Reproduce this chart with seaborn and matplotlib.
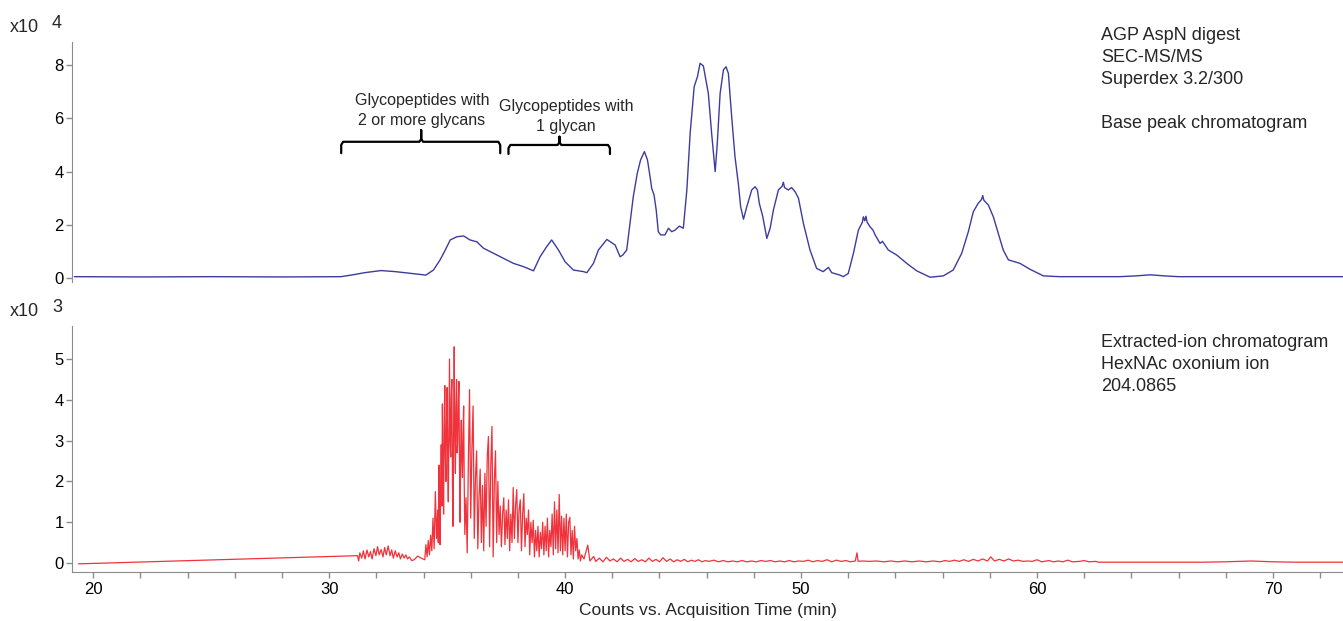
import numpy as np
import pandas as pd
import matplotlib
matplotlib.use("Agg")
import matplotlib.pyplot as plt
from matplotlib.ticker import MultipleLocator
import seaborn as sns

# base peak chromatogram (x10^4 counts)
bpc_time = [19.2, 22.0, 25.0, 28.0, 30.5, 31.0, 31.5, 32.2, 32.8, 33.4, 34.1, 34.42,
            34.7, 34.92, 35.13, 35.41, 35.7, 35.97, 36.26, 36.54, 36.96, 37.39, 37.81,
            38.23, 38.66, 38.94, 39.22, 39.43, 39.72, 40.0, 40.35, 40.78, 40.92, 41.2,
            41.41, 41.77, 42.12, 42.33, 42.44, 42.61, 42.75, 42.89, 43.06, 43.2, 43.36,
            43.49, 43.6, 43.67, 43.77, 43.86, 43.95, 44.05, 44.23, 44.38, 44.52, 44.66,
            44.84, 45.01, 45.16, 45.3, 45.47, 45.61, 45.72, 45.86, 45.97, 46.07, 46.21,
            46.36, 46.45, 46.57, 46.71, 46.82, 46.92, 47.06, 47.2, 47.34, 47.44, 47.56,
            47.7, 47.91, 48.05, 48.15, 48.23, 48.38, 48.55, 48.69, 48.83, 49.04, 49.2,
            49.25, 49.3, 49.46, 49.6, 49.75, 49.89, 50.1, 50.38, 50.66, 50.94, 51.16,
            51.3, 51.65, 51.79, 52.0, 52.22, 52.43, 52.6, 52.64, 52.7, 52.75, 52.8,
            52.92, 53.05, 53.14, 53.35, 53.45, 53.7, 54.06, 54.48, 54.9, 55.47, 56.03,
            56.45, 56.81, 57.09, 57.3, 57.51, 57.65, 57.7, 57.75, 57.94, 58.15, 58.36,
            58.57, 58.79, 59.28, 59.7, 60.27, 60.97, 63.5, 64.2, 64.8, 65.4, 66.0, 73.0]
bpc_counts = [0.05, 0.04, 0.05, 0.04, 0.05, 0.12, 0.2, 0.28, 0.24, 0.18, 0.11, 0.3,
              0.68, 1.05, 1.43, 1.55, 1.58, 1.43, 1.36, 1.12, 0.93, 0.74, 0.55,
              0.43, 0.27, 0.8, 1.18, 1.43, 1.05, 0.61, 0.3, 0.24, 0.2, 0.55,
              1.05, 1.45, 1.24, 0.8, 0.86, 1.05, 2.05, 3.06, 3.94, 4.44, 4.75,
              4.44, 3.81, 3.37, 3.12, 2.56, 1.74, 1.62, 1.62, 1.87, 1.74, 1.8,
              1.95, 1.87, 3.31, 5.44, 7.19, 7.57, 8.07, 7.97, 7.44, 6.94, 5.44,
              4.0, 5.06, 6.94, 7.82, 7.94, 7.69, 6.06, 4.56, 3.56, 2.68, 2.21,
              2.68, 3.31, 3.43, 3.31, 2.81, 2.3, 1.49, 1.87, 2.56, 3.31, 3.45,
              3.6, 3.4, 3.31, 3.4, 3.24, 3.0, 2.05, 1.05, 0.36, 0.24, 0.4,
              0.2, 0.11, 0.05, 0.17, 0.93, 1.8, 2.1, 2.3, 2.15, 2.32, 2.1,
              1.93, 1.8, 1.62, 1.3, 1.38, 1.05, 0.86, 0.55, 0.27, 0.03, 0.08,
              0.3, 0.93, 1.74, 2.49, 2.81, 2.95, 3.1, 2.92, 2.74, 2.3, 1.68,
              1.05, 0.68, 0.55, 0.33, 0.08, 0.05, 0.05, 0.08, 0.12, 0.08, 0.05, 0.05]

# extracted-ion chromatogram (x10^3 counts), in three stretches
eic_time_start = [19.38, 31.2, 31.25, 31.3, 31.38, 31.45, 31.52, 31.6, 31.68, 31.75,
                  31.82, 31.9, 31.98, 32.05, 32.12, 32.2, 32.28, 32.35, 32.42, 32.5,
                  32.58, 32.65, 32.72, 32.8, 32.88, 32.95, 33.02, 33.1, 33.18, 33.25,
                  33.32, 33.4, 33.5, 33.6, 33.75, 33.9, 34.05]
eic_counts_start = [-0.02, 0.18, 0.05, 0.25, 0.12, 0.3, 0.1, 0.32, 0.15, 0.28,
                    0.1, 0.35, 0.18, 0.4, 0.2, 0.33, 0.15, 0.38, 0.2, 0.42,
                    0.18, 0.32, 0.12, 0.3, 0.15, 0.25, 0.1, 0.22, 0.12, 0.2,
                    0.1, 0.15, 0.06, 0.08, 0.17, 0.12, 0.08]

eic_time_burst = [34.10, 34.15, 34.20, 34.25, 34.30, 34.35, 34.40, 34.45, 34.50, 34.55,
                  34.600, 34.625, 34.650, 34.675, 34.700, 34.725, 34.750, 34.775,
                  34.800, 34.825, 34.850, 34.875, 34.900, 34.925, 34.950, 34.975,
                  35.000, 35.025, 35.050, 35.075, 35.100, 35.125, 35.150, 35.175,
                  35.200, 35.225, 35.250, 35.275, 35.300, 35.325, 35.350, 35.375,
                  35.400, 35.425, 35.450, 35.475, 35.500, 35.525, 35.550, 35.575,
                  35.600, 35.625, 35.650, 35.675, 35.700, 35.725, 35.750,
                  35.80, 35.85, 35.90, 35.95, 36.00, 36.05,
                  36.10, 36.15, 36.20, 36.25, 36.30, 36.35, 36.40, 36.45, 36.50, 36.55,
                  36.60, 36.65, 36.70, 36.75, 36.80, 36.85, 36.90, 36.95, 37.00, 37.05,
                  37.10, 37.15, 37.20, 37.25, 37.30, 37.35, 37.40, 37.45, 37.50, 37.55,
                  37.60, 37.65, 37.70, 37.75, 37.80, 37.85, 37.90, 37.95, 38.00, 38.05,
                  38.10, 38.15, 38.20, 38.25, 38.30, 38.35, 38.40, 38.45, 38.50, 38.55,
                  38.60, 38.65, 38.70, 38.75, 38.80, 38.85, 38.90, 38.95, 39.00, 39.05,
                  39.10, 39.15, 39.20, 39.25, 39.30, 39.35, 39.40, 39.45, 39.50, 39.55,
                  39.60, 39.65, 39.70, 39.75, 39.80, 39.85, 39.90, 39.95, 40.00, 40.05,
                  40.10, 40.15, 40.20, 40.25, 40.30, 40.35, 40.40, 40.45, 40.50, 40.55,
                  40.60, 40.65, 40.70]
eic_counts_burst = [0.45, 0.15, 0.55, 0.2, 0.68, 0.3, 1.1, 0.35, 1.75, 0.6,
                    1.3, 0.5, 2.4, 1.0, 0.45, 1.9, 2.9, 1.4,
                    3.9, 2.2, 1.2, 3.3, 4.35, 2.6, 2.0, 3.6,
                    4.3, 2.4, 1.5, 3.2, 5.0, 3.0, 2.6, 4.1,
                    4.5, 2.0, 0.9, 3.4, 5.3, 3.1, 2.2, 3.8,
                    4.5, 2.7, 3.0, 4.0, 4.45, 2.3, 1.0, 2.8,
                    3.5, 2.5, 2.1, 3.2, 3.85, 1.9, 0.7,
                    1.6, 0.25, 2.5, 4.25, 1.1, 2.8,
                    3.85, 0.6, 2.1, 2.75, 0.35, 1.6, 2.3, 0.5, 1.9, 0.3,
                    2.2, 0.9, 2.6, 3.1, 0.4, 2.4, 3.35, 0.15, 2.0, 2.75,
                    0.5, 2.0, 0.7, 1.4, 0.4, 1.2, 1.6, 0.45, 1.3, 0.6,
                    1.55, 0.3, 1.2, 0.5, 1.85, 0.6, 1.4, 1.8, 0.5, 1.3,
                    1.55, 0.3, 1.2, 1.7, 0.4, 1.1, 0.7, 1.3, 0.2, 1.0,
                    0.5, 1.05, 0.15, 0.8, 0.3, 0.9, 0.15, 0.75, 0.35, 1.0,
                    0.2, 0.9, 0.3, 1.1, 0.15, 0.8, 0.4, 1.2, 0.2, 1.5,
                    0.35, 1.3, 0.25, 1.68, 0.3, 1.15, 0.2, 1.1, 0.3, 1.2,
                    0.15, 1.0, 1.12, 0.2, 0.8, 0.1, 0.9, 0.3, 0.6, 0.1,
                    0.32, 0.05, 0.2]

eic_time_tail = [40.8, 40.96, 41.05, 41.21, 41.3, 41.45, 41.6, 41.75, 41.9, 42.05,
                 42.2, 42.35, 42.5, 42.65, 42.8, 42.95, 43.1, 43.25, 43.4, 43.55,
                 43.7, 43.85, 44.0, 44.15, 44.3, 44.45, 44.6, 44.75, 44.9, 45.05,
                 45.2, 45.35, 45.5, 45.65, 45.8, 45.95, 46.1, 46.3, 46.5, 46.7,
                 46.9, 47.1, 47.3, 47.5, 47.7, 47.9, 48.1, 48.3, 48.5, 48.7,
                 48.9, 49.1, 49.3, 49.5, 49.7, 49.9, 50.1, 50.3, 50.5, 50.7,
                 50.9, 51.1, 51.3, 51.5, 51.7, 51.9, 52.1, 52.3, 52.37, 52.42,
                 52.6, 52.9, 53.2, 53.5, 53.8, 54.1, 54.4, 54.7, 55.0, 55.3,
                 55.6, 55.9, 56.1, 56.3, 56.5, 56.7, 56.9, 57.1, 57.3, 57.5,
                 57.7, 57.9, 58.04, 58.2, 58.4, 58.6, 58.8, 59.0, 59.2, 59.4,
                 59.6, 59.8, 60.0, 60.2, 60.5, 60.7, 60.9, 61.1, 61.3, 61.5,
                 61.8, 62.0, 62.2, 62.5, 62.6, 67.0, 68.0, 69.07, 70.0, 71.0, 73.0]
eic_counts_tail = [0.1, 0.44, 0.05, 0.16, 0.04, 0.12, 0.03, 0.14, 0.05, 0.1,
                   0.03, 0.12, 0.04, 0.09, 0.03, 0.11, 0.04, 0.08, 0.03, 0.12,
                   0.04, 0.09, 0.03, 0.13, 0.04, 0.1, 0.03, 0.08, 0.04, 0.09,
                   0.03, 0.07, 0.04, 0.08, 0.03, 0.06, 0.04, 0.07, 0.03, 0.06,
                   0.03, 0.05, 0.03, 0.06, 0.03, 0.05, 0.03, 0.06, 0.04, 0.06,
                   0.03, 0.05, 0.03, 0.06, 0.03, 0.05, 0.04, 0.07, 0.03, 0.06,
                   0.04, 0.08, 0.03, 0.07, 0.04, 0.06, 0.03, 0.05, 0.25, 0.04,
                   0.05, 0.04, 0.05, 0.03, 0.05, 0.03, 0.05, 0.03, 0.05, 0.03,
                   0.05, 0.03, 0.06, 0.04, 0.07, 0.04, 0.08, 0.04, 0.09, 0.05,
                   0.1, 0.05, 0.15, 0.05, 0.09, 0.05, 0.1, 0.05, 0.07, 0.04,
                   0.05, 0.04, 0.08, 0.03, 0.06, 0.03, 0.05, 0.03, 0.07, 0.03,
                   0.04, 0.06, 0.03, 0.04, 0.02, 0.02, 0.03, 0.05, 0.03, 0.02, 0.02]

top_note = "AGP AspN digest\nSEC-MS/MS\nSuperdex 3.2/300\n\nBase peak chromatogram"
bottom_note = "Extracted-ion chromatogram\nHexNAc oxonium ion\n204.0865"

sns.set_style("ticks")
plt.rcParams['font.family'] = ['Liberation Sans', 'DejaVu Sans']

bpc = pd.DataFrame({'time': bpc_time, 'counts': bpc_counts})
eic = pd.DataFrame({'time': eic_time_start + eic_time_burst + eic_time_tail,
                    'counts': eic_counts_start + eic_counts_burst + eic_counts_tail})

W, H = 1343, 621
fig = plt.figure(figsize=(W / 100, H / 100), dpi=100)
ax1 = fig.add_axes([72 / W, 1 - 282 / H, (1343 - 72) / W, 240 / H])
ax2 = fig.add_axes([72 / W, 1 - 572 / H, (1343 - 72) / W, 246 / H])

grey = '#8c8c8c'
xlim = (19.1, 72.97)

sns.lineplot(data=bpc, x='time', y='counts', ax=ax1, color='#3c3ca0',
             linewidth=1.0, sort=False, estimator=None)
sns.lineplot(data=eic, x='time', y='counts', ax=ax2, color='#ee1c25',
             linewidth=0.9, alpha=0.9, sort=False, estimator=None)

for ax in (ax1, ax2):
    ax.set_xlim(*xlim)
    ax.set_xlabel('')
    ax.set_ylabel('')
    for s in ['top', 'right']:
        ax.spines[s].set_visible(False)
    ax.spines['left'].set_color(grey)
    ax.spines['bottom'].set_color(grey)
    ax.tick_params(axis='y', which='major', length=4, width=1, color=grey,
                   labelsize=12, pad=2, labelcolor='black')

# top panel
ax1.set_ylim(-0.15, 8.87)
ax1.set_yticks([0, 2, 4, 6, 8])
ax1.spines['bottom'].set_visible(False)
ax1.tick_params(axis='x', bottom=False, labelbottom=False)

# bottom panel
ax2.set_ylim(-0.22, 5.81)
ax2.set_yticks([0, 1, 2, 3, 4, 5])
ax2.xaxis.set_major_locator(MultipleLocator(10))
ax2.xaxis.set_minor_locator(MultipleLocator(2))
ax2.tick_params(axis='x', which='both', length=4.5, width=1, color=grey,
                labelsize=12, pad=3, labelcolor='black')
ax2.set_xlabel('Counts vs. Acquisition Time (min)', fontsize=12.5, labelpad=4)

# scale labels
fig.text(10 / W, 1 - 28 / H, 'x10', fontsize=13, va='center', ha='left')
fig.text(52 / W, 1 - 23 / H, '4', fontsize=13, va='center', ha='left')
fig.text(10 / W, 1 - 312 / H, 'x10', fontsize=13, va='center', ha='left')
fig.text(52 / W, 1 - 308 / H, '3', fontsize=13, va='center', ha='left')

fig.text(1101 / W, 1 - 27 / H, top_note, fontsize=13, va='top', ha='left',
         linespacing=1.38)
fig.text(1101 / W, 1 - 334 / H, bottom_note, fontsize=13, va='top', ha='left',
         linespacing=1.38)

# brackets over the glycopeptide regions
def bracket(ax, x0, x1, xc, y_top, y_end, y_tip):
    ax.plot([x0, x0, x0 + 0.08, xc - 0.08, xc, xc, xc, xc + 0.08, x1 - 0.08, x1, x1],
            [y_end, y_top - 0.12, y_top, y_top, y_top + 0.1, y_tip, y_top + 0.1,
             y_top, y_top, y_top - 0.12, y_end],
            color='black', linewidth=1.6, solid_joinstyle='round',
            solid_capstyle='round')

bracket(ax1, 30.51, 37.25, 33.9, 5.12, 4.69, 5.56)
bracket(ax1, 37.6, 41.9, 39.76, 5.0, 4.66, 5.31)
ax1.text(33.93, 6.3, 'Glycopeptides with\n2 or more glycans', fontsize=11.5,
         ha='center', va='center', linespacing=1.4)
ax1.text(40.04, 6.08, 'Glycopeptides with\n1 glycan', fontsize=11.5,
         ha='center', va='center', linespacing=1.4)

plt.savefig('out.png', dpi=100)
